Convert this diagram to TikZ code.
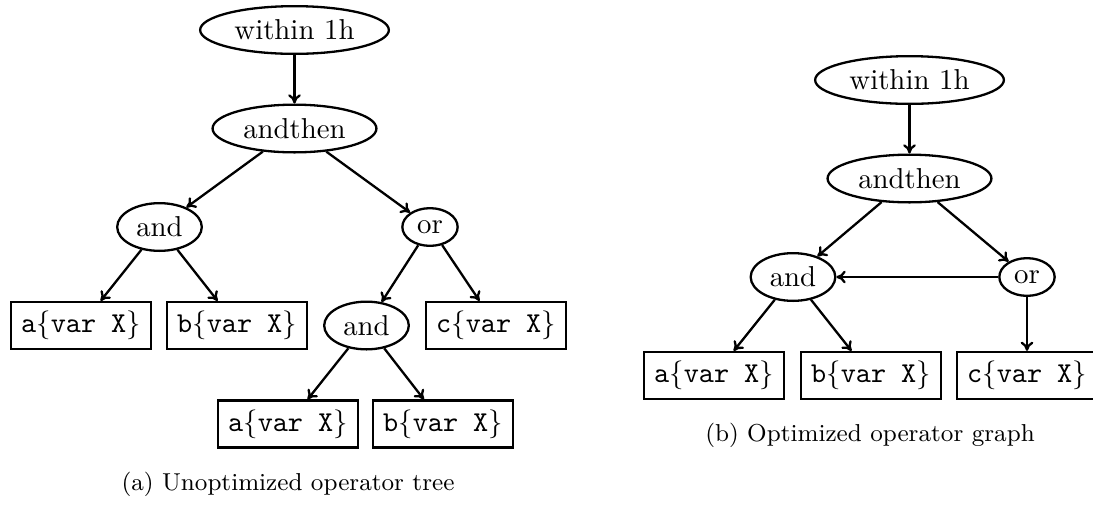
\documentclass[tikz,border=0pt]{standalone}
\usetikzlibrary{shapes.geometric,arrows.meta}

% event pattern: letter{var X} in typewriter with math braces
\newcommand{\evpat}[1]{\texttt{#1}$\{$\texttt{var X}$\}$}

\begin{document}
\begin{tikzpicture}[x=0.34722pt, y=-0.34722pt,
  op/.style={ellipse, draw, line width=0.8pt, inner sep=2.33pt, font=\fontsize{10}{12}\selectfont},
  ev/.style={rectangle, draw, line width=0.8pt, inner xsep=3.55pt, inner ysep=3.15pt},
  edge/.style={-{Computer Modern Rightarrow[length=3.2pt,width=4.4pt]}, line width=0.8pt},
  captext/.style={font=\fontsize{8.5}{10}\selectfont}]
\useasboundingbox (0,0) rectangle (1093,505);

% (a) unoptimized operator tree
\node[op] (wa)   at (294.5,30)  {within 1h};
\node[op] (ta)   at (294.5,128.5) {andthen};
\node[op] (anda) at (159.5,227) {and};
\node[op] (ora)  at (430,227)   {or};
\node[ev] (a1)   at (81,325.5)  {\evpat{a}};
\node[ev] (b1)   at (237,325.5) {\evpat{b}};
\node[op] (and2) at (366.5,325.5) {and};
\node[ev] (c1)   at (496,325.5) {\evpat{c}};
\node[ev] (a2)   at (288,424)   {\evpat{a}};
\node[ev] (b2)   at (443,424)   {\evpat{b}};
\node[captext] (capa) at (288,484) {(a) Unoptimized operator tree};

\draw[edge] (wa) -- (ta);
\draw[edge] (ta) -- (anda);
\draw[edge] (ta) -- (ora);
\draw[edge] (anda) -- (a1);
\draw[edge] (anda) -- (b1);
\draw[edge] (ora) -- (and2);
\draw[edge] (ora) -- (c1);
\draw[edge] (and2) -- (a2);
\draw[edge] (and2) -- (b2);

% (b) optimized operator graph
\node[op] (wb)   at (909.5,80)  {within 1h};
\node[op] (tb)   at (909.5,178.5) {andthen};
\node[op] (andb) at (793,277)   {and};
\node[op] (orb)  at (1027,277)  {or};
\node[ev] (a3)   at (714,375.5) {\evpat{a}};
\node[ev] (b3)   at (871,375.5) {\evpat{b}};
\node[ev] (c3)   at (1027,375.5) {\evpat{c}};
\node[captext] (capb) at (870,435) {(b) Optimized operator graph};

\draw[edge] (wb) -- (tb);
\draw[edge] (tb) -- (andb);
\draw[edge] (tb) -- (orb);
\draw[edge] (orb) -- (andb);
\draw[edge] (andb) -- (a3);
\draw[edge] (andb) -- (b3);
\draw[edge] (orb) -- (c3);
\end{tikzpicture}
\end{document}
